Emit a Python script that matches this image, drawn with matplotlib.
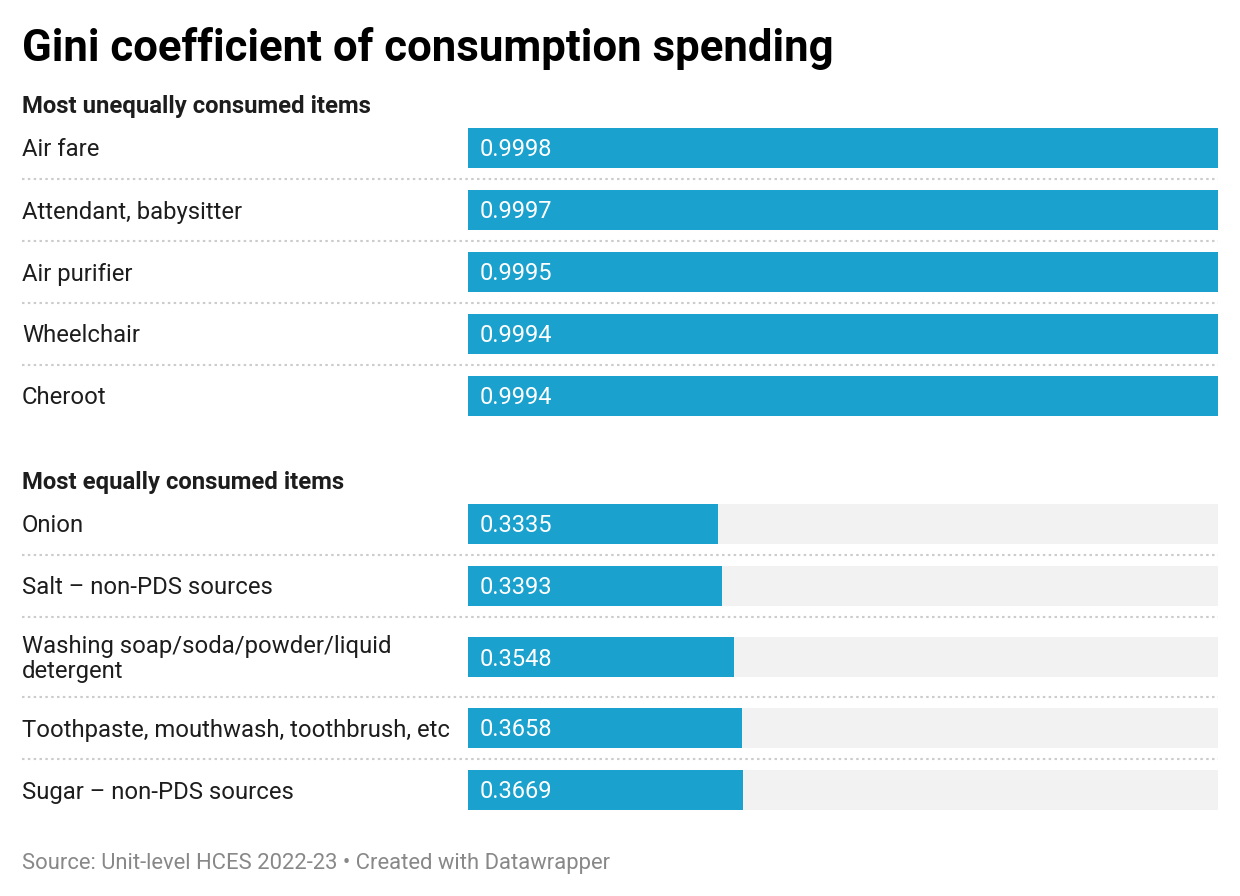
import matplotlib.pyplot as plt

plt.rcParams['font.family'] = ['Roboto', 'DejaVu Sans']

title = 'Gini coefficient of consumption spending'
source = 'Source: Unit-level HCES 2022-23 \u2022 Created with Datawrapper'

top_header = 'Most unequally consumed items'
top_items = ['Air fare', 'Attendant, babysitter', 'Air purifier', 'Wheelchair', 'Cheroot']
top_values = [0.9998, 0.9997, 0.9995, 0.9994, 0.9994]

bottom_header = 'Most equally consumed items'
bottom_items = ['Onion', 'Salt \u2013 non-PDS sources',
                'Washing soap/soda/powder/liquid\ndetergent',
                'Toothpaste, mouthwash, toothbrush, etc', 'Sugar \u2013 non-PDS sources']
bottom_values = [0.3335, 0.3393, 0.3548, 0.3658, 0.3669]

W, H = 1240, 896
BAR_COLOR = '#1aa1cd'
BG_COLOR = '#f2f2f2'
TEXT = '#1d1d1d'

fig = plt.figure(figsize=(W / 100, H / 100), dpi=100)

# full-figure axes in pixel units for text and separators
bg = fig.add_axes([0, 0, 1, 1])
bg.set_xlim(0, W)
bg.set_ylim(H, 0)
bg.axis('off')

# bar axes: x in data units 0..1, y in pixel units
ax = fig.add_axes([468 / W, 0, 750 / W, 1])
ax.set_xlim(0, 1)
ax.set_ylim(H, 0)
ax.axis('off')

bg.text(22, 48, title, fontsize=31.5, fontweight='bold', color='#000000', va='center')
bg.text(22, 864, source, fontsize=15.8, color='#888888', va='center')


def draw_group(header, items, values, header_y, first_center):
    bg.text(22, header_y, header, fontsize=17.2, fontweight='bold', color=TEXT, va='center')
    centers = []
    c = first_center
    prev_half = None
    for it in items:
        lines = it.count('\n') + 1
        half = 31 + 9 * (lines - 1)
        if prev_half is not None:
            c = c + prev_half + half
        centers.append((c, half))
        prev_half = half
    for i, ((c, half), it, v) in enumerate(zip(centers, items, values)):
        ax.barh(c, 1, height=40, color=BG_COLOR, left=0)
        ax.barh(c, v, height=40, color=BAR_COLOR, left=0)
        ax.text(0.016, c + 2, f'{v:.4f}', fontsize=17, color='white', va='center', ha='left')
        bg.text(22, c + 2, it, fontsize=17.2, color=TEXT, va='center', ha='left', linespacing=1.15)
        if i < len(items) - 1:
            y = c + half
            bg.plot([22, 1218], [y, y], color='#cccccc', lw=1.5, ls=(0, (1.2, 1.6)))


draw_group(top_header, top_items, top_values, 106, 148)
draw_group(bottom_header, bottom_items, bottom_values, 482, 524)

fig.savefig('out.png', dpi=100, facecolor='white')
